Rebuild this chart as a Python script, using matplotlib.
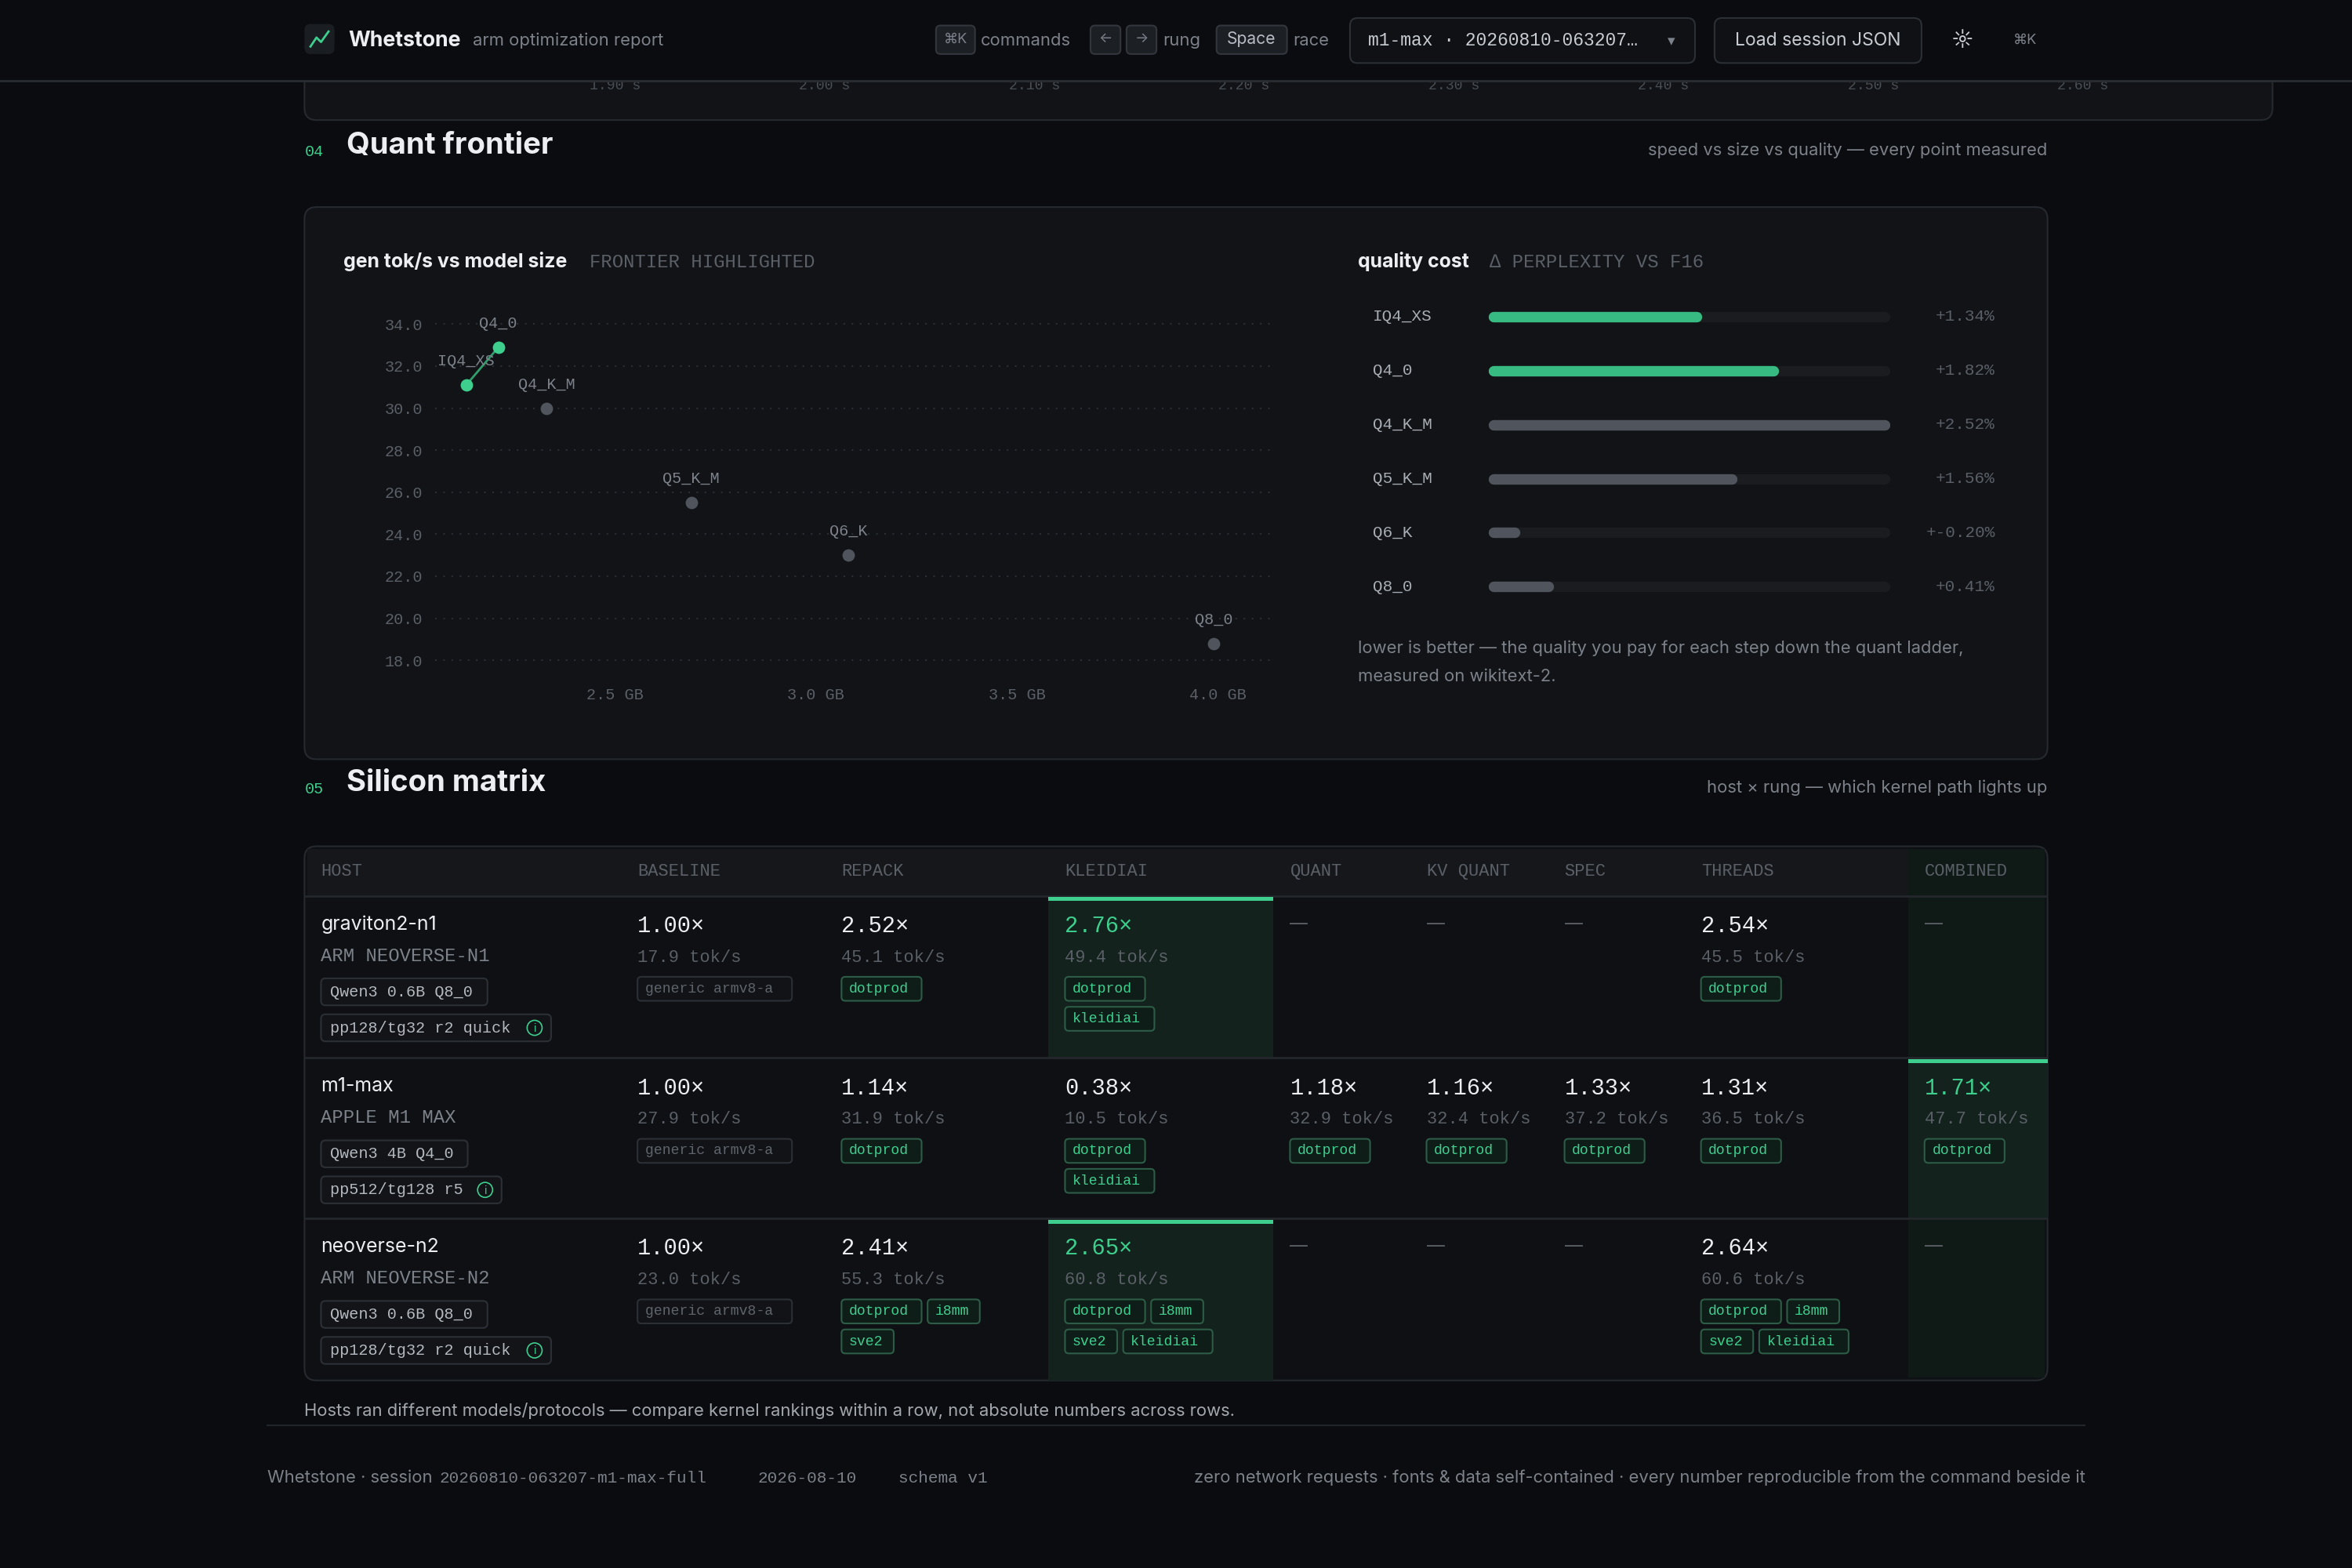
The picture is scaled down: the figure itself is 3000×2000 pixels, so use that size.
import matplotlib
matplotlib.use("Agg")
import matplotlib.pyplot as plt
from matplotlib.patches import FancyBboxPatch, Rectangle, Circle

# ---- data ----
quant_names = ["IQ4_XS", "Q4_0", "Q4_K_M", "Q5_K_M", "Q6_K", "Q8_0"]
quant_size_gb = [2.13, 2.21, 2.33, 2.69, 3.08, 3.99]
quant_gen_tps = [31.1, 32.9, 30.0, 25.5, 23.0, 18.8]
quant_frontier = [True, True, False, False, False, False]
ppl_delta_pct = [1.34, 1.82, 2.52, 1.56, -0.20, 0.41]

x_ticks = [2.5, 3.0, 3.5, 4.0]
y_ticks = [18, 20, 22, 24, 26, 28, 30, 32, 34]

columns = ["HOST", "BASELINE", "REPACK", "KLEIDIAI", "QUANT", "KV QUANT", "SPEC", "THREADS", "COMBINED"]
hosts = ["graviton2-n1", "m1-max", "neoverse-n2"]
host_cpu = ["ARM NEOVERSE-N1", "APPLE M1 MAX", "ARM NEOVERSE-N2"]
host_model = ["Qwen3 0.6B Q8_0", "Qwen3 4B Q4_0", "Qwen3 0.6B Q8_0"]
host_proto = ["pp128/tg32 r2 quick", "pp512/tg128 r5", "pp128/tg32 r2 quick"]
speedup = [
    [1.00, 2.52, 2.76, None, None, None, 2.54, None],
    [1.00, 1.14, 0.38, 1.18, 1.16, 1.33, 1.31, 1.71],
    [1.00, 2.41, 2.65, None, None, None, 2.64, None],
]
tok_s = [
    [17.9, 45.1, 49.4, None, None, None, 45.5, None],
    [27.9, 31.9, 10.5, 32.9, 32.4, 37.2, 36.5, 47.7],
    [23.0, 55.3, 60.8, None, None, None, 60.6, None],
]
# tags per cell, one inner list per line
tags = [
    [[["generic armv8-a"]], [["dotprod"]], [["dotprod"], ["kleidiai"]], [], [], [], [["dotprod"]], []],
    [[["generic armv8-a"]], [["dotprod"]], [["dotprod"], ["kleidiai"]], [["dotprod"]], [["dotprod"]], [["dotprod"]],
     [["dotprod"]], [["dotprod"]]],
    [[["generic armv8-a"]], [["dotprod", "i8mm"], ["sve2"]], [["dotprod", "i8mm"], ["sve2", "kleidiai"]], [], [], [],
     [["dotprod", "i8mm"], ["sve2", "kleidiai"]], []],
]
best_col = [2, 7, 2]
timeline_ticks = ["1.90 s", "2.00 s", "2.10 s", "2.20 s", "2.30 s", "2.40 s", "2.50 s", "2.60 s"]

# ---- style ----
BG = "#0b0c0f"
PANEL = "#111317"
BORDER = "#262a30"
GREEN = "#3ecf8e"
GREY_DOT = "#50555d"
TXT = "#eceef1"
MUTED = "#7c818a"
FAINT = "#5b6068"
SANS = ["Inter", "DejaVu Sans"]
MONO = ["Liberation Mono", "DejaVu Sans Mono"]
W, H = 1568, 1045
K = 3000 / W * 0.72  # display px -> points


def fs(px):
    return px * K


fig = plt.figure(figsize=(30, 20), dpi=100, facecolor=BG)
bg = fig.add_axes([0, 0, 1, 1])
bg.set_xlim(0, W)
bg.set_ylim(H, 0)
bg.axis("off")


def box(x0, y0, x1, y1, fc, ec=None, r=8, lw=1.5, z=1):
    bg.add_patch(FancyBboxPatch((x0, y0), x1 - x0, y1 - y0, boxstyle=f"round,pad=0,rounding_size={r}",
                                fc=fc, ec=ec if ec else "none", lw=lw, zorder=z))


def t(x, y, s, size, color=TXT, family=SANS, ha="left", va="center", weight="normal", z=5):
    bg.text(x, y, s, fontsize=fs(size), color=color, family=family, ha=ha, va=va, fontweight=weight, zorder=z)


def tag(x, y, s, green=True):
    w = len(s) * 6.2 + 10
    box(x, y - 8, x + w, y + 8, "#0f1d18" if green else "#111317",
        "#2d5c47" if green else "#2c3036", r=2.5, lw=1.5, z=6)
    t(x + 5, y, s, 9.5, GREEN if green else "#5f646c", MONO, z=7)
    return w


# previous panel remnant + timeline ticks
box(203, -20, 1515, 80, PANEL, BORDER, r=8)
for i, s in enumerate(timeline_ticks):
    t(410 + i * 139.8, 57, s, 9.5, "#4a4e55", MONO, ha="center")

# header bar
bg.add_patch(Rectangle((0, 0), W, 54, fc="#0b0c0f", ec="none", zorder=8))
bg.plot([0, W], [54, 54], color="#2a2d33", lw=2, zorder=9)
box(203, 16, 223, 36, "#1a1d22", r=4, z=9)
bg.plot([207, 211, 214, 219], [31, 25, 28, 21], color=GREEN, lw=2, zorder=10)
t(232, 27, "Whetstone", 14, TXT, weight="bold", z=10)
t(315, 27, "arm optimization report", 11.5, MUTED, z=10)
box(624, 17, 650, 36, "#1c1f24", "#33373d", r=3, z=9)
t(637, 26, "⌘K", 9.5, MUTED, ha="center", z=10)
t(654, 27, "commands", 11.5, MUTED, z=10)
box(727, 17, 747, 36, "#1c1f24", "#33373d", r=3, z=9)
t(737, 26, "←", 9.5, MUTED, ha="center", z=10)
box(751, 17, 771, 36, "#1c1f24", "#33373d", r=3, z=9)
t(761, 26, "→", 9.5, MUTED, ha="center", z=10)
t(775, 27, "rung", 11.5, MUTED, z=10)
box(811, 17, 858, 36, "#1c1f24", "#33373d", r=3, z=9)
t(834, 26, "Space", 11, "#b8bcc3", ha="center", z=10)
t(862, 27, "race", 11.5, MUTED, z=10)
box(900, 12, 1130, 42, "#0f1114", "#2c3036", r=5, z=9)
t(912, 27, "m1-max · 20260810-063207…", 12, "#c8ccd2", MONO, z=10)
t(1114, 28, "▾", 10, MUTED, ha="center", z=10)
box(1143, 12, 1281, 42, "#0f1114", "#2c3036", r=5, z=9)
t(1212, 27, "Load session JSON", 12, "#c8ccd2", ha="center", z=10)
t(1308, 27, "☼", 14, "#c8ccd2", ha="center", z=10)
t(1350, 27, "⌘K", 9.5, MUTED, ha="center", z=10)

# section 04
t(203, 101, "04", 10.5, GREEN, MONO)
t(231, 97, "Quant frontier", 20, TXT, weight="bold")
t(1365, 100, "speed vs size vs quality — every point measured", 11.5, MUTED, ha="right")
box(203, 138, 1365, 506, PANEL, BORDER, r=8)
t(229, 174, "gen tok/s vs model size", 13, TXT, weight="bold")
t(393, 175, "FRONTIER HIGHLIGHTED", 12.5, FAINT, MONO)
t(905, 174, "quality cost", 13, TXT, weight="bold")
t(993, 175, "∆ PERPLEXITY VS F16", 12.5, FAINT, MONO)
t(905, 432, "lower is better — the quality you pay for each step down the quant ladder,", 11.5, MUTED)
t(905, 451, "measured on wikitext-2.", 11.5, MUTED)


def ax_rect(x0, y0, x1, y1):
    return [x0 / W, 1 - y1 / H, (x1 - x0) / W, (y1 - y0) / H]


# scatter
ax = fig.add_axes(ax_rect(290, 205, 850, 450))
ax.set_facecolor("none")
px_per_gb = (812 - 410) / 1.5
ax.set_xlim(2.5 - (410 - 290) / px_per_gb, 4.0 + (850 - 812) / px_per_gb)
ax.set_ylim(18 - 10 / 14, 34 + 11 / 14)
for s in ax.spines.values():
    s.set_visible(False)
ax.set_yticks(y_ticks)
ax.set_yticklabels([f"{v:.1f}" for v in y_ticks])
ax.set_xticks(x_ticks)
ax.set_xticklabels([f"{v:.1f} GB" for v in x_ticks])
ax.tick_params(length=0, colors=FAINT, labelsize=fs(10.5), pad=fs(8))
for lab in ax.get_xticklabels() + ax.get_yticklabels():
    lab.set_family(MONO)
ax.grid(axis="y", color="#2a2d33", linestyle=(0, (1, 4)), lw=1.5)
ax.grid(axis="x", visible=False)
fx = [x for x, f in zip(quant_size_gb, quant_frontier) if f]
fy = [y for y, f in zip(quant_gen_tps, quant_frontier) if f]
ax.plot(fx, fy, color="#2f9e6c", lw=2, zorder=3)
for name, x, y, f in zip(quant_names, quant_size_gb, quant_gen_tps, quant_frontier):
    ax.scatter(x, y, s=130, color=GREEN if f else GREY_DOT, zorder=4, lw=0)
    ax.annotate(name, (x, y), xytext=(0, 22), textcoords="offset points", ha="center", va="center",
                fontsize=fs(10.5), color=MUTED, family=MONO, zorder=5)

# quality-cost bars
bx = fig.add_axes(ax_rect(992, 193, 1260, 409))
bx.set_facecolor("none")
bx.axis("off")
vmax = max(abs(v) for v in ppl_delta_pct)
bx.set_xlim(0, vmax)
bx.set_ylim(len(quant_names) - 0.5, -0.5)
cap = 3.5 / 268 * vmax
for i, (name, v, f) in enumerate(zip(quant_names, ppl_delta_pct, quant_frontier)):
    bx.plot([cap, vmax - cap], [i, i], color="#1a1c20", lw=fs(7), solid_capstyle="round")
    bx.plot([cap, max(abs(v) - cap, cap)], [i, i], color="#38bb82" if f else GREY_DOT, lw=fs(7),
            solid_capstyle="round")
    y = 211 + i * 36
    t(915, y, name, 11, "#a9adb4", MONO)
    t(1330, y, f"+{v:.2f}%", 11, FAINT, MONO, ha="right")

# section 05
t(203, 526, "05", 10.5, GREEN, MONO)
t(231, 522, "Silicon matrix", 20, TXT, weight="bold")
t(1365, 525, "host × rung — which kernel path lights up", 11.5, MUTED, ha="right")

col_x = [203, 414, 550, 699, 849, 940, 1032, 1123, 1272, 1365]
row_y = [564, 597, 705, 812, 920]
box(203, 564, 1365, 920, "#0e1013", BORDER, r=8)
bg.add_patch(Rectangle((205, 566), 1158, 31, fc="#15171b", ec="none", zorder=1.5))
bg.add_patch(Rectangle((1272, 566), 91, 352, fc="#0f1a17", ec="none", zorder=1.6))
for y in row_y[1:-1]:
    bg.plot([204, 1364], [y, y], color="#24272c", lw=2, zorder=2)
for j, c in enumerate(columns):
    t(col_x[j] + 11, 581, c, 11.5, FAINT, MONO)

for i in range(len(hosts)):
    y0 = row_y[i + 1]
    bcx0, bcx1 = col_x[best_col[i] + 1], col_x[best_col[i] + 2]
    bg.add_patch(Rectangle((bcx0, y0), bcx1 - bcx0, row_y[i + 2] - y0, fc="#13221c", ec="none", zorder=1.7))
    bg.add_patch(Rectangle((bcx0, y0 + 1), bcx1 - bcx0, 2.5, fc=GREEN, ec="none", zorder=3))
    t(214, y0 + 19, hosts[i], 13, TXT)
    t(214, y0 + 40, host_cpu[i], 12.5, MUTED, MONO)
    w = len(host_model[i]) * 6.6 + 12
    box(214, y0 + 55, 214 + w, y0 + 73, "#121418", "#2c3036", r=3, z=6)
    t(220, y0 + 64, host_model[i], 10.5, "#b5b9c0", MONO, z=7)
    w = len(host_proto[i]) * 6.6 + 28
    box(214, y0 + 79, 214 + w, y0 + 97, "#121418", "#2c3036", r=3, z=6)
    t(220, y0 + 88, host_proto[i], 10.5, "#b5b9c0", MONO, z=7)
    bg.add_patch(Circle((214 + w - 11, y0 + 88), 5, fc="none", ec=GREEN, lw=1.2, zorder=7))
    t(214 + w - 11, y0 + 88.5, "i", 7.5, GREEN, ha="center", z=7)
    for j in range(len(columns) - 1):
        x = col_x[j + 1] + 11
        v = speedup[i][j]
        if v is None:
            t(x, y0 + 19, "—", 12, FAINT)
            continue
        best = j == best_col[i]
        t(x, y0 + 20, f"{v:.2f}×", 15, GREEN if best else TXT, MONO)
        t(x, y0 + 41, f"{tok_s[i][j]:.1f} tok/s", 11.5, FAINT, MONO)
        for li, line in enumerate(tags[i][j]):
            tx = x
            for s in line:
                tx += tag(tx, y0 + 62 + 20 * li, s, s != "generic armv8-a") + 4

t(203, 940, "Hosts ran different models/protocols — compare kernel rankings within a row, not absolute numbers across rows.",
  11.5, "#a3a7ae")
bg.plot([178, 1390], [950, 950], color="#22252a", lw=1.5)
t(178, 985, "Whetstone · session", 11.5, MUTED)
t(293, 985, "20260810-063207-m1-max-full", 11, MUTED, MONO)
t(505, 985, "2026-08-10", 11, MUTED, MONO)
t(599, 985, "schema v1", 11, MUTED, MONO)
t(1390, 985, "zero network requests · fonts & data self-contained · every number reproducible from the command beside it",
  11.5, MUTED, ha="right")

fig.savefig("out.png", dpi=100, facecolor=BG)
